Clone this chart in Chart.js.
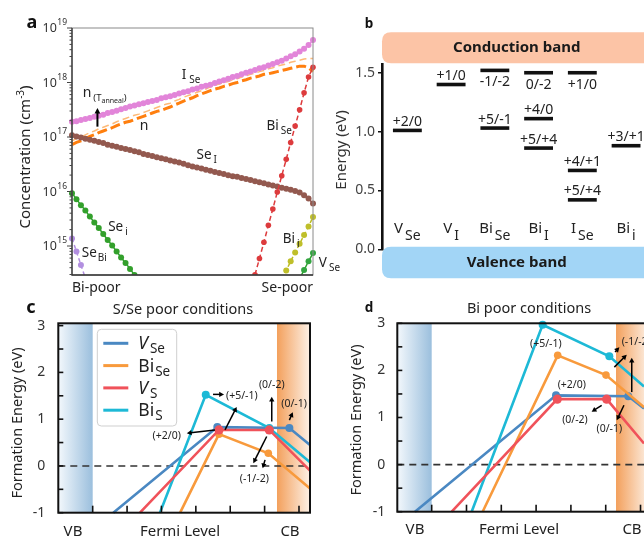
<!DOCTYPE html>
<html>
<head>
<meta charset="utf-8">
<script src="https://cdn.jsdelivr.net/npm/chart.js@4.4.1/dist/chart.umd.min.js"></script>
<style>
html,body{margin:0;padding:0;overflow:hidden;background:#ffffff;}
body{width:644px;height:537px;position:relative;}
canvas{position:absolute;left:0;top:0;}
</style>
</head>
<body>
<canvas id="chartA" width="644" height="537"></canvas>
<canvas id="chartB" width="644" height="537"></canvas>
<canvas id="chartC" width="644" height="537"></canvas>
<canvas id="chartD" width="644" height="537"></canvas>
<script>
const FONT = "'Noto Sans', 'DejaVu Sans', sans-serif";

/* ================= Panel a : defect concentrations (log10, cm^-3) ================= */
const compSteps = Array.from({length: 55}, (_, i) => i);
const aTickExponents = [15, 16, 17, 18, 19];
const aXLabels = ['Bi-poor', 'Se-poor'];
const logISe = [17.28,17.29,17.31,17.33,17.35,17.37,17.39,17.41,17.44,17.46,17.48,17.51,17.53,17.56,17.58,17.60,17.62,17.64,17.66,17.68,17.71,17.73,17.75,17.77,17.80,17.82,17.84,17.87,17.89,17.92,17.94,17.96,17.99,18.02,18.04,18.07,18.10,18.12,18.15,18.18,18.20,18.23,18.26,18.28,18.31,18.34,18.37,18.40,18.44,18.48,18.52,18.57,18.62,18.69,18.78];
const logN = [16.86,16.90,16.93,16.97,17.01,17.04,17.08,17.11,17.14,17.17,17.21,17.24,17.27,17.29,17.32,17.35,17.38,17.41,17.44,17.47,17.49,17.52,17.55,17.59,17.62,17.66,17.69,17.72,17.76,17.79,17.82,17.85,17.88,17.90,17.93,17.95,17.98,18.00,18.03,18.05,18.08,18.10,18.12,18.15,18.16,18.18,18.20,18.22,18.24,18.26,18.28,18.30,18.30,18.27,18.20];
const logNAnneal = [16.93,16.97,17.00,17.04,17.08,17.11,17.15,17.18,17.21,17.24,17.28,17.31,17.34,17.37,17.40,17.42,17.45,17.48,17.51,17.54,17.57,17.60,17.62,17.66,17.69,17.73,17.76,17.79,17.82,17.85,17.88,17.92,17.95,17.97,18.00,18.02,18.05,18.07,18.10,18.12,18.15,18.17,18.20,18.22,18.25,18.27,18.30,18.32,18.34,18.37,18.39,18.41,18.43,18.44,18.44];
const logSeI = [17.03,17.01,16.99,16.97,16.95,16.93,16.91,16.89,16.86,16.84,16.82,16.80,16.78,16.76,16.74,16.72,16.69,16.67,16.65,16.63,16.61,16.59,16.57,16.55,16.53,16.51,16.48,16.46,16.44,16.42,16.40,16.38,16.36,16.34,16.32,16.30,16.28,16.27,16.25,16.23,16.21,16.19,16.17,16.15,16.13,16.11,16.09,16.07,16.05,16.03,16.01,15.98,15.93,15.87,15.78];
const logSei = [15.97,15.86,15.75,15.65,15.54,15.43,15.33,15.22,15.11,15.01,14.90,14.79,14.69,14.58,14.47,14.37].concat(Array(39).fill(null));
const logSeBi = [15.14,14.90,14.65,14.41].concat(Array(51).fill(null));
const logBiSe = Array(41).fill(null).concat([14.47,14.77,15.07,15.38,15.68,15.99,16.29,16.59,16.90,17.20,17.50,17.81,18.10,18.28]);
const logBii = Array(47).fill(null).concat([14.39,14.55,14.72,14.88,15.04,15.20,15.36,15.53]);
const logVSe = Array(51).fill(null).concat([14.40,14.56,14.72,14.87]);

/* ================= Panel b : transition levels (eV) ================= */
const defectMain = ['V','V','Bi','Bi','I','Bi'];
const defectSub = ['Se','I','Se','I','Se','i'];
const levelDefect = [0,1,2,2,3,3,3,4,4,4,5];
const levelEnergy = [1.01,1.40,1.52,1.03,1.50,1.11,0.86,1.50,0.67,0.42,0.88];
const levelLabel = ['+2/0','+1/0','-1/-2','+5/-1','0/-2','+4/0','+5/+4','+1/0','+4/+1','+5/+4','+3/+1'];
const levelLabelBelow = [false,false,true,false,true,false,false,true,false,false,false];

/* ================= Panels c, d : formation energies (eV) ================= */
const feXTicks = [0,0.25,0.5,0.75,1,1.25,1.5];
const feYMinorTicks = [-1,-0.5,0,0.5,1,1.5,2,2.5,3];
const feXLabels = ['VB','Fermi Level','CB'];
// c : S/Se poor
const cVSeX = [0.15,0.906,1.43,1.58],   cVSeY = [-1,0.83,0.81,0.45];
const cBiSeX = [0.636,0.918,1.277,1.58], cBiSeY = [-1,0.68,0.27,-0.48];
const cVSX = [0.344,0.918,1.284,1.58],  cVSY = [-1,0.77,0.77,-0.10];
const cBiSX = [0.489,0.822,1.284,1.58], cBiSY = [-1,1.52,0.81,0.08];
// d : Bi poor
const dVSeX = [-0.12,0.893,1.412,1.525], dVSeY = [-1,1.47,1.45,1.19];
const dBiSeX = [0.366,0.905,1.252,1.525], dBiSeY = [-1,2.32,1.90,1.22];
const dVSX = [0.144,0.902,1.257,1.525],  dVSY = [-1,1.39,1.39,0.45];
const dBiSX = [0.287,0.797,1.276,1.525], dBiSY = [-1,2.97,2.30,1.66];
// annotations (data coordinates)
const cAnnText = [['(+5/-1)',1.084,1.50],['(+2/0)',0.538,0.63],['(0/-2)',1.302,1.72],['(0/-1)',1.464,1.33],['(-1/-2)',1.175,-0.28]];
const cAnnArrows = [[0.875,1.53,0.955,1.53],[0.889,0.77,0.684,0.70],[0.962,0.77,1.047,1.26],[1.302,0.95,1.302,1.48],[1.43,0.98,1.455,1.15],[1.265,0.63,1.168,0.06],[1.253,0.13,1.236,-0.05]];
const dAnnText = [['(+5/-1)',0.82,2.57],['(+2/0)',1.006,1.70],['(0/-2)',1.029,0.94],['(0/-1)',1.276,0.75],['(-1/-2)',1.365,2.60]];
const dAnnArrows = [[1.221,1.26,1.149,1.12],[1.381,1.26,1.329,0.94],[1.312,2.07,1.401,2.33],[1.317,2.39,1.348,2.49],[1.437,1.54,1.437,2.27]];

/* ================= helpers ================= */
function fontStr(size, o) { o = o || {}; return [o.style || '', o.weight || '400', size + 'px', FONT].filter(Boolean).join(' '); }
function txt(ctx, s, x, y, size, o) {
  o = o || {};
  ctx.save();
  ctx.font = fontStr(size, o);
  ctx.fillStyle = o.color || '#222';
  ctx.textAlign = o.align || 'left';
  ctx.textBaseline = o.baseline || 'alphabetic';
  ctx.fillText(s, x, y);
  ctx.restore();
}
function meas(ctx, s, size, o) { ctx.save(); ctx.font = fontStr(size, o); const w = ctx.measureText(s).width; ctx.restore(); return w; }
function subLabel(ctx, main, sub, x, y, size, subSize, dy, o) {
  o = o || {};
  const gap = o.gap === undefined ? 1 : o.gap;
  const mw = meas(ctx, main, size, o), sw = meas(ctx, sub, subSize, {weight: o.weight});
  const tot = mw + gap + sw;
  const x0 = o.align === 'center' ? x - tot / 2 : (o.align === 'right' ? x - tot : x);
  txt(ctx, main, x0, y, size, {style: o.style, weight: o.weight, color: o.color});
  txt(ctx, sub, x0 + mw + gap, y + dy, subSize, {weight: o.weight, color: o.color});
}
function arrow(ctx, x1, y1, x2, y2, o) {
  o = o || {};
  const h = o.head || 5, w = o.width || 1.4, c = o.color || '#000';
  const a = Math.atan2(y2 - y1, x2 - x1);
  ctx.save();
  ctx.strokeStyle = c; ctx.fillStyle = c; ctx.lineWidth = w; ctx.setLineDash([]);
  ctx.beginPath(); ctx.moveTo(x1, y1); ctx.lineTo(x2 - Math.cos(a) * h * 0.7, y2 - Math.sin(a) * h * 0.7); ctx.stroke();
  ctx.beginPath(); ctx.moveTo(x2, y2);
  ctx.lineTo(x2 - h * Math.cos(a - 0.5), y2 - h * Math.sin(a - 0.5));
  ctx.lineTo(x2 - h * Math.cos(a + 0.5), y2 - h * Math.sin(a + 0.5));
  ctx.closePath(); ctx.fill();
  ctx.restore();
}
function line(ctx, x1, y1, x2, y2) { ctx.beginPath(); ctx.moveTo(x1, y1); ctx.lineTo(x2, y2); ctx.stroke(); }
function rotText(ctx, s, cx, cy, size, o) {
  ctx.save(); ctx.translate(cx, cy); ctx.rotate(-Math.PI / 2);
  txt(ctx, s, 0, 0, size, Object.assign({align: 'center', baseline: 'middle'}, o || {}));
  ctx.restore();
}
const toConc = arr => arr.map(v => v === null ? null : Math.pow(10, v));
const baseOpts = {responsive: false, animation: false, devicePixelRatio: 1, events: []};

/* ================= Chart a ================= */
function aDs(label, logs, color, ptColor, opt) {
  return Object.assign({label, data: toConc(logs), borderColor: color, backgroundColor: ptColor, pointBackgroundColor: ptColor,
    pointBorderWidth: 0, borderWidth: 1.5, pointRadius: 3, tension: 0, spanGaps: false}, opt);
}
const aLabels = [
  {m: 'I', s: 'Se', i: 24.6, v: 18.06, gap: 3},
  {m: 'Se', s: 'I', i: 27.9, v: 16.59, gap: 2},
  {m: 'Bi', s: 'Se', i: 43.6, v: 17.13, gap: 2},
  {m: 'Se', s: 'i', i: 8.1, v: 15.28, gap: 2},
  {m: 'Se', s: 'Bi', i: 2.2, v: 14.79, gap: 1},
  {m: 'Bi', s: 'i', i: 47.2, v: 15.05, gap: 2},
  {m: 'V', s: 'Se', i: 55.3, v: 14.62, gap: 2}
];
const pluginA = {
  id: 'panelA',
  afterDatasetsDraw(chart) {
    const {ctx, chartArea: ca, scales: {x, y}} = chart;
    ctx.save();
    ctx.strokeStyle = '#8a8a8a'; ctx.lineWidth = 1;
    ctx.strokeRect(ca.left, ca.top, ca.right - ca.left, ca.bottom - ca.top);
    ctx.strokeStyle = '#333'; ctx.lineWidth = 1.3;
    ctx.beginPath(); ctx.moveTo(ca.left, ca.top); ctx.lineTo(ca.left, ca.bottom); ctx.lineTo(ca.right, ca.bottom); ctx.stroke();
    ctx.lineWidth = 1; ctx.strokeStyle = '#444';
    for (let e = 14; e <= 19; e++) {
      for (let k = 1; k < 10; k++) {
        const v = k * Math.pow(10, e);
        if (v < y.min * 0.999 || v > y.max * 1.001) continue;
        const py = y.getPixelForValue(v);
        line(ctx, ca.left - (k === 1 ? 5 : 2.5), py, ca.left, py);
      }
    }
    ctx.restore();
    // tick labels 10^n
    aTickExponents.forEach(e => {
      const py = y.getPixelForValue(Math.pow(10, e));
      const sup = String(e);
      const sw = meas(ctx, sup, 8.5);
      const right = ca.left - 5;
      txt(ctx, sup, right, py - 3, 8.5, {align: 'right', color: '#333'});
      txt(ctx, '10', right - sw - 0.5, py + 4, 12.5, {align: 'right', color: '#333'});
    });
    // x labels
    txt(ctx, aXLabels[0], ca.left, ca.bottom + 17, 14, {color: '#222'});
    txt(ctx, aXLabels[1], ca.right, ca.bottom + 17, 14, {color: '#222', align: 'right'});
    // y title
    ctx.save(); ctx.translate(25, 157); ctx.rotate(-Math.PI / 2);
    const t1 = 'Concentration (cm';
    const w1 = meas(ctx, t1, 15), w2 = meas(ctx, '-3', 10), w3 = meas(ctx, ')', 15);
    const x0 = -(w1 + w2 + w3) / 2;
    txt(ctx, t1, x0, 5, 15); txt(ctx, '-3', x0 + w1, -1, 10); txt(ctx, ')', x0 + w1 + w2, 5, 15);
    ctx.restore();
    // panel letter
    txt(ctx, 'a', 32, 28, 18, {weight: '700', align: 'center', color: '#111'});
    // curve labels
    aLabels.forEach(L => {
      subLabel(ctx, L.m, L.s, x.getPixelForValue(L.i), y.getPixelForValue(Math.pow(10, L.v)), 13.5, 10, 4, {gap: L.gap, color: '#222'});
    });
    // n label and n(T_anneal)
    txt(ctx, 'n', x.getPixelForValue(15.2), y.getPixelForValue(Math.pow(10, 17.13)), 14, {color: '#222'});
    const nx = x.getPixelForValue(2.4), ny = y.getPixelForValue(Math.pow(10, 17.73));
    txt(ctx, 'n', nx, ny, 14, {color: '#222'});
    let cx = nx + meas(ctx, 'n', 14) + 2;
    txt(ctx, '(T', cx, ny + 4, 9.5, {color: '#222'}); cx += meas(ctx, '(T', 9.5);
    txt(ctx, 'anneal', cx, ny + 6, 7, {color: '#222'}); cx += meas(ctx, 'anneal', 7);
    txt(ctx, ')', cx, ny + 4, 9.5, {color: '#222'});
    const ax = x.getPixelForValue(5.7);
    arrow(ctx, ax, y.getPixelForValue(Math.pow(10, 17.19)), ax, y.getPixelForValue(Math.pow(10, 17.53)), {width: 2, head: 6});
  }
};
new Chart(document.getElementById('chartA'), {
  type: 'line',
  data: {
    labels: compSteps,
    datasets: [
      aDs('Bi_Se', logBiSe, '#dd3b3d', '#dd3b3d', {borderDash: [5, 3], pointRadius: 2.8, order: 1}),
      aDs('I_Se', logISe, '#e890e0', '#e285d9', {order: 2}),
      aDs('Se_I', logSeI, '#8c564b', '#93594f', {order: 3}),
      aDs('n', logN, '#ff7f0e', '#ff7f0e', {borderDash: [10, 4], borderWidth: 3, pointRadius: 0, order: 4}),
      aDs('n(T_anneal)', logNAnneal, 'rgba(253,178,105,0.9)', '#fdb269', {borderDash: [7, 4], borderWidth: 1.5, pointRadius: 0, order: 5}),
      aDs('Se_i', logSei, '#2ca02c', '#33a02c', {order: 6}),
      aDs('Se_Bi', logSeBi, '#b28fe0', '#b28fe0', {borderDash: [4, 3], order: 7}),
      aDs('Bi_i', logBii, '#bcbd22', '#bfbf2a', {borderDash: [4, 3], order: 8}),
      aDs('V_Se', logVSe, '#2ca02c', '#33a540', {order: 9})
    ]
  },
  options: Object.assign({}, baseOpts, {
    layout: {autoPadding: false, padding: {left: 72, top: 28, right: 331, bottom: 262}},
    plugins: {legend: {display: false}, tooltip: {enabled: false}},
    scales: {
      x: {type: 'category', display: false, offset: false},
      y: {type: 'logarithmic', display: false, min: Math.pow(10, 14.468), max: 1e19}
    }
  }),
  plugins: [pluginA]
});

/* ================= Chart b ================= */
function roundRect(ctx, x, y, w, h, r) {
  ctx.beginPath();
  ctx.moveTo(x + r, y); ctx.lineTo(x + w - r, y); ctx.quadraticCurveTo(x + w, y, x + w, y + r);
  ctx.lineTo(x + w, y + h - r); ctx.quadraticCurveTo(x + w, y + h, x + w - r, y + h);
  ctx.lineTo(x + r, y + h); ctx.quadraticCurveTo(x, y + h, x, y + h - r);
  ctx.lineTo(x, y + r); ctx.quadraticCurveTo(x, y, x + r, y); ctx.closePath();
}
const pluginB = {
  id: 'panelB',
  afterDraw(chart) {
    const {ctx, chartArea: ca, scales: {x, y}} = chart;
    const midX = x.getPixelForValue(2.5);
    ctx.save();
    ctx.fillStyle = '#fcc4a6'; roundRect(ctx, ca.left, ca.top - 32.2, 290, 31, 9); ctx.fill();
    ctx.fillStyle = '#a2d5f6'; roundRect(ctx, ca.left, ca.bottom - 2.6, 290, 31.6, 9); ctx.fill();
    ctx.restore();
    txt(ctx, 'Conduction band', midX, ca.top - 16.5, 15, {weight: '700', align: 'center', baseline: 'middle', color: '#1a1a1a'});
    txt(ctx, 'Valence band', midX, ca.bottom + 13.5, 15, {weight: '700', align: 'center', baseline: 'middle', color: '#1a1a1a'});
    levelEnergy.forEach((e, i) => {
      const px = x.getPixelForValue(levelDefect[i]), py = y.getPixelForValue(e);
      txt(ctx, levelLabel[i], px, levelLabelBelow[i] ? py + 16 : py - 4.5, 14, {align: 'center', color: '#222'});
    });
    defectMain.forEach((m, i) => {
      subLabel(ctx, m, defectSub[i], x.getPixelForValue(i), ca.bottom - 16, 15, 14, 7, {align: 'center', gap: 2, color: '#222'});
    });
    rotText(ctx, 'Energy (eV)', 342, 150, 15, {color: '#333'});
    txt(ctx, 'b', 369, 28, 13.5, {weight: '700', align: 'center', color: '#111'});
  }
};
new Chart(document.getElementById('chartB'), {
  type: 'line',
  data: {
    datasets: levelEnergy.map((e, i) => ({
      label: levelLabel[i],
      data: [{x: levelDefect[i] - 0.33, y: e}, {x: levelDefect[i] + 0.33, y: e}],
      borderColor: '#111', borderWidth: 3.6, pointRadius: 0, borderCapStyle: 'butt', clip: false
    }))
  },
  options: Object.assign({}, baseOpts, {
    layout: {autoPadding: false, padding: {left: 0, top: 64.5, right: 0, bottom: 287.7}},
    plugins: {legend: {display: false}, tooltip: {enabled: false}},
    scales: {
      x: {type: 'linear', display: false, min: -0.58, max: 5.41},
      y: {type: 'linear', min: 0, max: 1.57, afterFit: s => { s.width = 382; },
        ticks: {stepSize: 0.5, includeBounds: false, callback: v => Number(v).toFixed(1), color: '#444', padding: 3, font: {family: FONT, size: 14}},
        grid: {display: true, drawOnChartArea: false, drawTicks: true, tickLength: 4, color: '#111', lineWidth: 1.5},
        border: {display: true, color: '#111', width: 2.6}}
    }
  }),
  plugins: [pluginB]
});

/* ================= Charts c, d ================= */
const feStyle = {
  VSe: {color: '#4a88c2', r: 4, order: 4},
  BiSe: {color: '#f89a3c', r: 3.8, order: 2},
  VS: {color: '#f0525a', r: 4.6, order: 1},
  BiS: {color: '#1db9d6', r: 4, order: 3}
};
const legendRows = [['V', 'Se', 'italic', 'VSe'], ['Bi', 'Se', '', 'BiSe'], ['V', 'S', 'italic', 'VS'], ['Bi', 'S', '', 'BiS']];

function buildFE(id, geo, series, annText, annArrows, deco) {
  const datasets = series.map(s => ({
    label: s.key,
    data: s.xs.map((xv, i) => ({x: xv, y: s.ys[i]})),
    borderColor: feStyle[s.key].color, backgroundColor: feStyle[s.key].color, pointBackgroundColor: feStyle[s.key].color,
    borderWidth: 2.6, pointBorderWidth: 0,
    pointRadius: c => (c.dataIndex === 0 || c.dataIndex === s.xs.length - 1) ? 0 : feStyle[s.key].r,
    order: feStyle[s.key].order, clip: false, tension: 0
  }));
  const plugin = {
    id: 'fe' + id,
    beforeDatasetsDraw(chart) {
      const {ctx, chartArea: ca, scales: {x, y}} = chart;
      ctx.save();
      ctx.beginPath(); ctx.rect(ca.left, ca.top, ca.right - ca.left, ca.bottom - ca.top); ctx.clip();
      const v1 = x.getPixelForValue(0);
      let g = ctx.createLinearGradient(ca.left, 0, v1, 0);
      g.addColorStop(0, '#f3f8fc'); g.addColorStop(1, '#9bbfdd');
      ctx.fillStyle = g; ctx.fillRect(ca.left, ca.top, v1 - ca.left, ca.bottom - ca.top);
      const c0 = x.getPixelForValue(geo.gap);
      g = ctx.createLinearGradient(c0, 0, c0 + 34, 0);
      g.addColorStop(0, '#f3a05c'); g.addColorStop(1, '#fdf3ea');
      ctx.fillStyle = g; ctx.fillRect(c0, ca.top, ca.right - c0 + 2, ca.bottom - ca.top);
      ctx.setLineDash([7, 5]); ctx.strokeStyle = '#333'; ctx.lineWidth = 1.6;
      const y0 = y.getPixelForValue(0);
      line(ctx, ca.left, y0, ca.right, y0);
      ctx.restore();
    },
    afterDatasetsDraw(chart) {
      const {ctx, chartArea: ca, scales: {x, y}} = chart;
      // annotations
      annArrows.forEach(a => arrow(ctx, x.getPixelForValue(a[0]), y.getPixelForValue(a[1]), x.getPixelForValue(a[2]), y.getPixelForValue(a[3]), {width: 1.5, head: 5.5}));
      annText.forEach(t => txt(ctx, t[0], x.getPixelForValue(t[1]), y.getPixelForValue(t[2]), 10.5, {align: deco.annAlign && deco.annAlign[t[0]] ? deco.annAlign[t[0]] : 'center', baseline: 'middle', color: '#222'}));
      // frame & ticks
      ctx.save();
      ctx.strokeStyle = '#111'; ctx.lineWidth = 2;
      ctx.strokeRect(ca.left, ca.top, (deco.openRight ? ca.right + 10 : ca.right) - ca.left, ca.bottom - ca.top);
      ctx.lineWidth = 1.6;
      feYMinorTicks.forEach(v => { const py = y.getPixelForValue(v); line(ctx, ca.left, py, ca.left + 5, py); });
      feXTicks.forEach(v => { const px = x.getPixelForValue(v); line(ctx, px, ca.bottom, px, ca.bottom - 7); });
      ctx.restore();
      // legend
      if (deco.legend) {
        const L = deco.legend;
        ctx.save();
        ctx.fillStyle = 'rgba(255,255,255,0.92)'; ctx.strokeStyle = '#cfcfcf'; ctx.lineWidth = 1;
        roundRect(ctx, L.x, L.y, L.w, L.h, 4); ctx.fill(); ctx.stroke();
        legendRows.forEach((r, i) => {
          const ry = L.y + 14 + i * 22.3;
          ctx.strokeStyle = feStyle[r[3]].color; ctx.lineWidth = 3;
          line(ctx, L.x + 6, ry, L.x + 31, ry);
          subLabel(ctx, r[0], r[1], L.x + 41, ry + 6, 17.5, 13.5, 4, {style: r[2], gap: r[2] ? 2 : 1, color: '#222'});
        });
        ctx.restore();
      }
      // texts
      txt(ctx, deco.title, deco.titleX, deco.titleY, 14.5, {align: 'center', baseline: 'middle', color: '#222'});
      txt(ctx, deco.letter, deco.letterX, deco.letterY, deco.letterSize, {weight: '700', align: 'center', color: '#111'});
      rotText(ctx, 'Formation Energy (eV)', deco.yTitleX, deco.yTitleY, 14.5, {color: '#222'});
      deco.xLabelX.forEach((px, i) => txt(ctx, feXLabels[i], px, deco.xLabelY, 15, {align: 'center', color: '#222'}));
    }
  };
  return new Chart(document.getElementById(id), {
    type: 'line',
    data: {datasets},
    options: Object.assign({}, baseOpts, {
      layout: {autoPadding: false, padding: {left: 0, top: geo.top, right: 644 - geo.right, bottom: 537 - geo.bottom}},
      plugins: {legend: {display: false}, tooltip: {enabled: false}},
      scales: {
        x: {type: 'linear', display: false, min: geo.xmin, max: geo.xmax},
        y: {type: 'linear', min: -1, max: geo.ymax, afterFit: s => { s.width = geo.left; },
          ticks: {stepSize: 1, includeBounds: false, padding: geo.tickPad, color: '#333', font: {family: FONT, size: 14}},
          grid: {display: false, drawTicks: false}, border: {display: false}}
      }
    }),
    plugins: [plugin]
  });
}

buildFE('chartC',
  {left: 58.3, right: 310, top: 323.3, bottom: 512.7, xmin: -0.25, xmax: 1.58, ymax: 3.05, tickPad: 13, gap: 1.34},
  [{key: 'VSe', xs: cVSeX, ys: cVSeY}, {key: 'BiSe', xs: cBiSeX, ys: cBiSeY}, {key: 'VS', xs: cVSX, ys: cVSY}, {key: 'BiS', xs: cBiSX, ys: cBiSY}],
  cAnnText, cAnnArrows,
  {legend: {x: 97.3, y: 329.3, w: 79.4, h: 96.7}, title: 'S/Se poor conditions', titleX: 183, titleY: 310,
   letter: 'c', letterX: 31, letterY: 313, letterSize: 18, yTitleX: 18, yTitleY: 423,
   xLabelX: [73, 180, 290], xLabelY: 536});

buildFE('chartD',
  {left: 397.3, right: 644, top: 323.3, bottom: 511.7, xmin: -0.247, xmax: 1.525, ymax: 3, tickPad: 12, gap: 1.324},
  [{key: 'VSe', xs: dVSeX, ys: dVSeY}, {key: 'BiSe', xs: dBiSeX, ys: dBiSeY}, {key: 'VS', xs: dVSX, ys: dVSY}, {key: 'BiS', xs: dBiSX, ys: dBiSY}],
  dAnnText, dAnnArrows,
  {openRight: true, annAlign: {'(-1/-2)': 'left'}, title: 'Bi poor conditions', titleX: 529, titleY: 309,
   letter: 'd', letterX: 369, letterY: 311.5, letterSize: 13.5, yTitleX: 357, yTitleY: 420,
   xLabelX: [415, 519, 632], xLabelY: 534});
</script>
</body>
</html>
